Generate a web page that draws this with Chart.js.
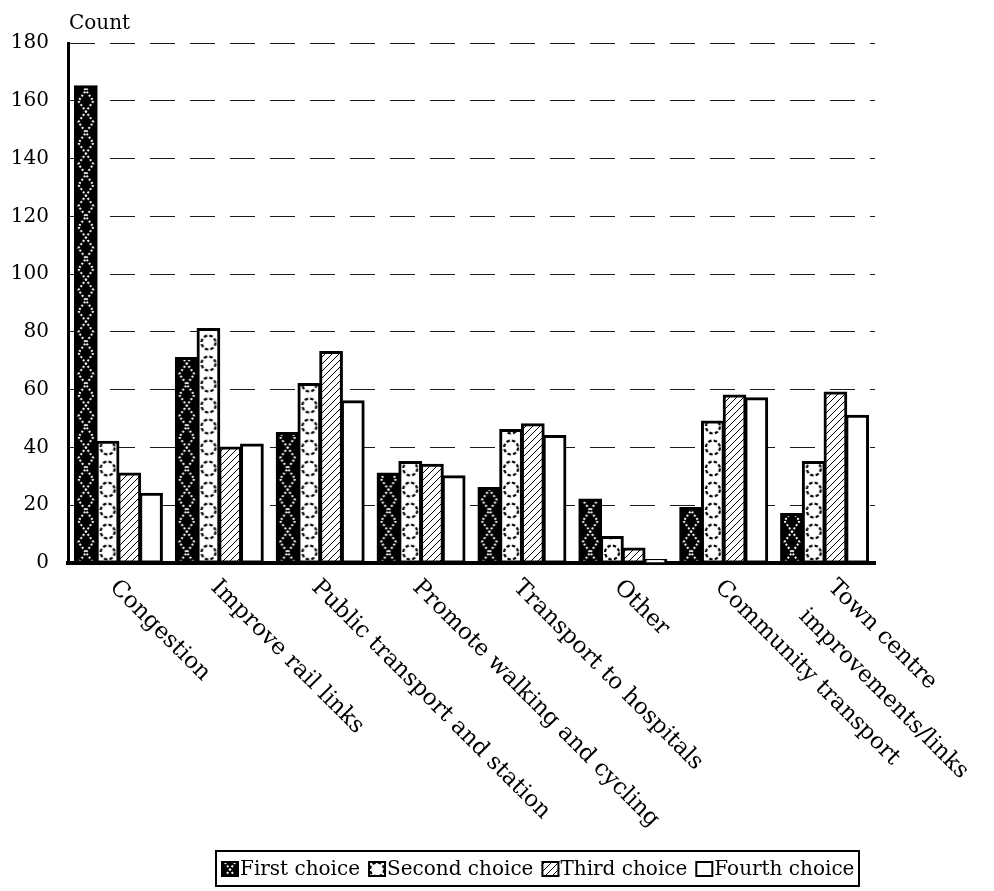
<!DOCTYPE html>
<html>
<head>
<meta charset="utf-8">
<script src="https://cdn.jsdelivr.net/npm/chart.js@4.4.1/dist/chart.umd.min.js"></script>
<style>
  html, body { margin: 0; padding: 0; background: #ffffff; }
  #wrap { width: 994px; height: 891px; }
</style>
</head>
<body>
<div id="wrap"><canvas id="chart" width="994" height="891"></canvas></div>
<script>
// ---- data -------------------------------------------------------------
const categories = [
  'Congestion',
  'Improve rail links',
  'Public transport and station',
  'Promote walking and cycling',
  'Transport to hospitals',
  'Other',
  'Community transport',
  ['Town centre', 'improvements/links']
];
const seriesNames = ['First choice', 'Second choice', 'Third choice', 'Fourth choice'];
const firstChoice  = [165, 71, 45, 31, 26, 22, 19, 17];
const secondChoice = [42, 81, 62, 35, 46, 9, 49, 35];
const thirdChoice  = [31, 40, 73, 34, 48, 5, 58, 59];
const fourthChoice = [24, 41, 56, 30, 44, 1, 57, 51];
const yMin = 0, yMax = 180, yStep = 20;
const yTitle = 'Count';

// ---- styling ----------------------------------------------------------
const FONT_FAMILY = '"DejaVu Serif", serif';
const FONT_SIZE = 20;
const CAT_FONT_SIZE = 23;
const CAT_PCT = 0.862;

function tile(w, h, paint) {
  const c = document.createElement('canvas');
  c.width = w; c.height = h;
  paint(c.getContext('2d'), w, h);
  return c;
}

// black fill with white dotted crossing zig-zags
const tileFirst = tile(20, 42, (g, w, h) => {
  g.fillStyle = '#000'; g.fillRect(0, 0, w, h);
  g.strokeStyle = '#fff'; g.lineWidth = 2; g.setLineDash([2, 2]);
  g.beginPath(); g.moveTo(2.5, 0); g.lineTo(17.5, 21); g.lineTo(2.5, 42); g.stroke();
  g.beginPath(); g.moveTo(17.5, 0); g.lineTo(2.5, 21); g.lineTo(17.5, 42); g.stroke();
});
// white fill with a column of dotted rings
const tileSecond = tile(20, 21, (g, w, h) => {
  g.fillStyle = '#fff'; g.fillRect(0, 0, w, h);
  g.strokeStyle = '#000'; g.lineWidth = 2.2; g.setLineDash([3.4, 2.2]);
  g.beginPath(); g.arc(10, 10.5, 7, 0, Math.PI * 2); g.stroke();
});
// thin forward hatching
const tileThird = tile(7, 7, (g, w, h) => {
  g.fillStyle = '#fff'; g.fillRect(0, 0, w, h);
  g.strokeStyle = '#000'; g.lineWidth = 1;
  g.beginPath();
  g.moveTo(-1, 8); g.lineTo(8, -1);
  g.moveTo(-1, 1); g.lineTo(1, -1);
  g.moveTo(6, 8); g.lineTo(8, 6);
  g.stroke();
});

const scratch = document.createElement('canvas').getContext('2d');
const patternCache = {};
function patternAt(kind, tx, ty) {
  const key = kind + ':' + tx.toFixed(2) + ':' + ty.toFixed(2);
  if (patternCache[key]) return patternCache[key];
  const src = kind === 0 ? tileFirst : kind === 1 ? tileSecond : tileThird;
  const p = scratch.createPattern(src, 'repeat');
  p.setTransform(new DOMMatrix([1, 0, 0, 1, tx, ty]));
  patternCache[key] = p;
  return p;
}

// fill for a bar, anchored so each ring / zig-zag column sits in the bar's middle
function barFill(kind) {
  return (ctx) => {
    if (kind === 3) return '#ffffff';
    if (kind === 2) return patternAt(2, 0, 0);
    const chart = ctx.chart;
    const xs = chart.scales && chart.scales.x;
    if (ctx.dataIndex === undefined || !xs || !chart.chartArea) return patternAt(kind, 0, 0);
    const catW = xs.width / categories.length;
    const barW = catW * CAT_PCT / seriesNames.length;
    const cx = xs.getPixelForValue(ctx.dataIndex) + (ctx.datasetIndex - (seriesNames.length - 1) / 2) * barW;
    return patternAt(kind, cx - 10, chart.chartArea.bottom);
  };
}

const seriesValues = [firstChoice, secondChoice, thirdChoice, fourthChoice];
const datasets = seriesNames.map((name, k) => ({
  label: name,
  data: seriesValues[k],
  backgroundColor: barFill(k),
  borderColor: '#000000',
  borderWidth: 3,
  borderSkipped: false,
  inflateAmount: 1,
  categoryPercentage: CAT_PCT,
  barPercentage: 1.0
}));

// rotated category names under the axis
const categoryLabels = {
  id: 'categoryLabels',
  afterDraw(chart) {
    const xs = chart.scales.x;
    const g = chart.ctx;
    const base = chart.chartArea.bottom;
    g.save();
    g.font = CAT_FONT_SIZE + 'px ' + FONT_FAMILY;
    g.fillStyle = '#000';
    g.textAlign = 'left';
    g.textBaseline = 'top';
    categories.forEach((lab, i) => {
      const lines = Array.isArray(lab) ? lab : [lab];
      const multi = lines.length > 1;
      g.save();
      g.translate(xs.getPixelForValue(i) + 3, base + 13);
      g.rotate(Math.PI / 4);
      lines.forEach((ln, j) => {
        g.fillText(ln, multi ? 8 : 0, multi ? j * 41 - 8.5 : 0);
      });
      g.restore();
    });
    g.restore();
  }
};

// axis caption above the value axis
const axisCaption = {
  id: 'axisCaption',
  afterDraw(chart) {
    const g = chart.ctx;
    g.save();
    g.font = FONT_SIZE + 'px ' + FONT_FAMILY;
    g.fillStyle = '#000';
    g.textAlign = 'left';
    g.textBaseline = 'alphabetic';
    g.fillText(yTitle, chart.chartArea.left + 1, 29);
    g.restore();
  }
};

// boxed legend along the bottom
const boxedLegend = {
  id: 'boxedLegend',
  afterDraw(chart) {
    const g = chart.ctx;
    g.save();
    g.font = FONT_SIZE + 'px ' + FONT_FAMILY;
    const swW = 18, swH = 16, swGap = 1, itemGap = 8, pad = 5;
    const widths = seriesNames.map(n => g.measureText(n).width);
    const total = pad * 2 + widths.reduce((a, b) => a + b, 0) + seriesNames.length * (swW + swGap) + itemGap * (seriesNames.length - 1);
    const centerX = 538;
    const top = 851, h = 35;
    const left = Math.round(centerX - total / 2);
    g.strokeStyle = '#000';
    g.lineWidth = 2;
    g.strokeRect(left, top, Math.round(total), h);
    let x = left + pad;
    const midY = top + h / 2;
    seriesNames.forEach((name, k) => {
      const sy = Math.round(midY - swH / 2);
      let fill;
      if (k === 3) fill = '#fff';
      else if (k === 2) fill = patternAt(2, 0, 0);
      else fill = patternAt(k, x + swW / 2 - 10, sy - 2);
      g.fillStyle = fill;
      g.fillRect(x, sy, swW, swH);
      g.lineWidth = 2;
      g.strokeStyle = '#000';
      g.strokeRect(x + 1, sy + 1, swW - 2, swH - 2);
      g.fillStyle = '#000';
      g.textAlign = 'left';
      g.textBaseline = 'middle';
      g.fillText(name, x + swW + swGap, midY + 1);
      x += swW + swGap + widths[k] + itemGap;
    });
    g.restore();
  }
};

new Chart(document.getElementById('chart'), {
  type: 'bar',
  data: { labels: categories, datasets },
  plugins: [categoryLabels, axisCaption, boxedLegend],
  options: {
    responsive: false,
    devicePixelRatio: 1,
    animation: false,
    layout: { padding: { top: 43, right: 119, bottom: 328, left: 11 } },
    plugins: {
      legend: { display: false },
      tooltip: { enabled: false },
      title: { display: false }
    },
    scales: {
      x: {
        type: 'category',
        grid: { display: false, drawTicks: false },
        ticks: { display: false },
        border: { display: true, color: '#000', width: 4 }
      },
      y: {
        min: yMin,
        max: yMax,
        afterFit(scale) { scale.width = 57; },
        ticks: {
          stepSize: yStep,
          color: '#000',
          padding: 19,
          font: { family: FONT_FAMILY, size: FONT_SIZE }
        },
        grid: {
          drawTicks: false,
          lineWidth: 1,
          color: (c) => (c.tick && c.tick.value === 0) ? 'rgba(0,0,0,0)' : '#1a1a1a'
        },
        border: { display: true, color: '#000', width: 3, dash: [25, 15] }
      }
    }
  }
});
</script>
</body>
</html>
